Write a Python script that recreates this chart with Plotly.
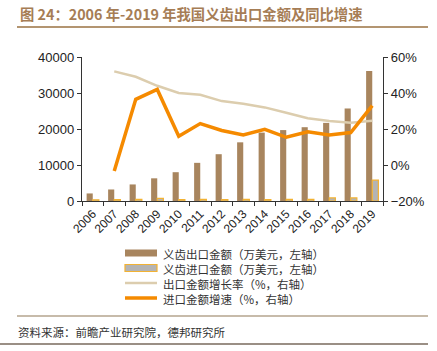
import plotly.graph_objects as go

years = [str(y) for y in range(2006, 2020)]
export_amt = [2100, 3200, 4600, 6300, 8000, 10600, 13000, 16300, 19000, 19700, 20500, 21700, 25700, 36100]
import_amt = [350, 400, 450, 750, 400, 450, 400, 450, 400, 450, 450, 850, 850, 5800]
export_growth = [None, 52, 49, 44, 40, 39, 35.5, 34, 32, 29, 26, 24.4, 23.5, 24.6]
import_growth = [None, -3.3, 36.5, 42, 16, 23, 19.2, 16.7, 19.8, 15.4, 18.5, 16.7, 18, 33]

names = ["义齿出口金额（万美元，左轴）", "义齿进口金额（万美元，左轴）",
         "出口金额增长率（%，右轴）", "进口金额增速（%，右轴）"]

CJK = "Noto Sans CJK SC"
C_EXP, C_IMP, C_IMP_LINE = "#a8855e", "#b4b4b4", "#f2b233"
C_EG, C_IG = "#dccdae", "#f58a00"

fig = go.Figure()
fig.add_trace(go.Bar(x=years, y=export_amt, name=names[0], marker_color=C_EXP,
                     marker_line_width=0))
fig.add_trace(go.Bar(x=years, y=import_amt, name=names[1], marker_color=C_IMP,
                     marker_line_color=C_IMP_LINE, marker_line_width=1.2))
fig.add_trace(go.Scatter(x=years, y=export_growth, name=names[2], yaxis="y2", mode="lines",
                         line=dict(color=C_EG, width=2.5)))
fig.add_trace(go.Scatter(x=years, y=import_growth, name=names[3], yaxis="y2", mode="lines",
                         line=dict(color=C_IG, width=3.5)))

L, T, W, H = 82, 57, 301, 144
def px(x): return (x - L) / W
def py(y): return 1 - (y - T) / H

axis_common = dict(showgrid=False, zeroline=False, showline=True, linecolor="#333",
                   linewidth=1.3, ticks="outside", tickcolor="#333", ticklen=4,
                   tickfont=dict(family="Liberation Sans, Arial", size=13, color="#222"))

annotations = [
    dict(xref="paper", yref="paper", x=px(18), y=py(14), xanchor="left", yanchor="middle",
         text="<b>图 24：2006 年-2019 年我国义齿出口金额及同比增速</b>", showarrow=False,
         font=dict(family=CJK, size=14.3, color="#a67d55")),
    dict(xref="paper", yref="paper", x=px(16), y=py(332), xanchor="left", yanchor="middle",
         text="资料来源：前瞻产业研究院，德邦研究所", showarrow=False,
         font=dict(family=CJK, size=11.5, color="#333")),
]
shapes = [
    dict(type="line", xref="paper", yref="paper", x0=px(17), x1=px(428),
         y0=py(27), y1=py(27), line=dict(color="#b39571", width=2)),
    dict(type="line", xref="paper", yref="paper", x0=px(17), x1=px(428),
         y0=py(316), y1=py(316), line=dict(color="#b5a48e", width=1.5)),
    dict(type="line", xref="paper", yref="paper", x0=px(0), x1=px(428),
         y0=py(344), y1=py(344), line=dict(color="#9a8f85", width=2)),
]

# custom compact legend (rows 15 px apart as in the reference)
rows = [253, 268, 283, 298]
sw0, sw1, tx = 125, 157, 162
for i, ry in enumerate(rows):
    if i == 0:
        shapes.append(dict(type="rect", xref="paper", yref="paper", x0=px(sw0), x1=px(sw1),
                           y0=py(ry - 3.5), y1=py(ry + 3.5), fillcolor=C_EXP, line_width=0))
    elif i == 1:
        shapes.append(dict(type="rect", xref="paper", yref="paper", x0=px(sw0), x1=px(sw1),
                           y0=py(ry - 3.5), y1=py(ry + 3.5), fillcolor=C_IMP,
                           line=dict(color=C_IMP_LINE, width=1.2)))
    else:
        shapes.append(dict(type="line", xref="paper", yref="paper", x0=px(sw0), x1=px(sw1),
                           y0=py(ry), y1=py(ry),
                           line=dict(color=C_EG if i == 2 else C_IG, width=2.5 if i == 2 else 3.5)))
annotations.append(dict(xref="paper", yref="paper", x=px(tx), y=py((rows[0] + rows[-1]) / 2 + 0.5),
                        xanchor="left", yanchor="middle", align="left",
                        text="<br>".join(names), showarrow=False, borderpad=0,
                        font=dict(family=CJK, size=11.5, color="#333")))

fig.update_layout(
    width=437, height=351,
    margin=dict(l=L, r=437 - L - W, t=T, b=351 - T - H, autoexpand=False),
    paper_bgcolor="white", plot_bgcolor="white",
    barmode="group", bargap=0.43, bargroupgap=0,
    showlegend=False,
    xaxis=dict(type="category", tickangle=-45, tickson="boundaries",
               **{**axis_common, "tickfont": dict(family="Liberation Sans, Arial", size=12, color="#222")}),
    yaxis=dict(range=[0, 40000], dtick=10000, tickformat="d", **axis_common),
    yaxis2=dict(range=[-20, 60], dtick=20, ticksuffix="%", overlaying="y", side="right",
                **axis_common),
    annotations=annotations,
    shapes=shapes,
)

fig.write_html("out.html")
